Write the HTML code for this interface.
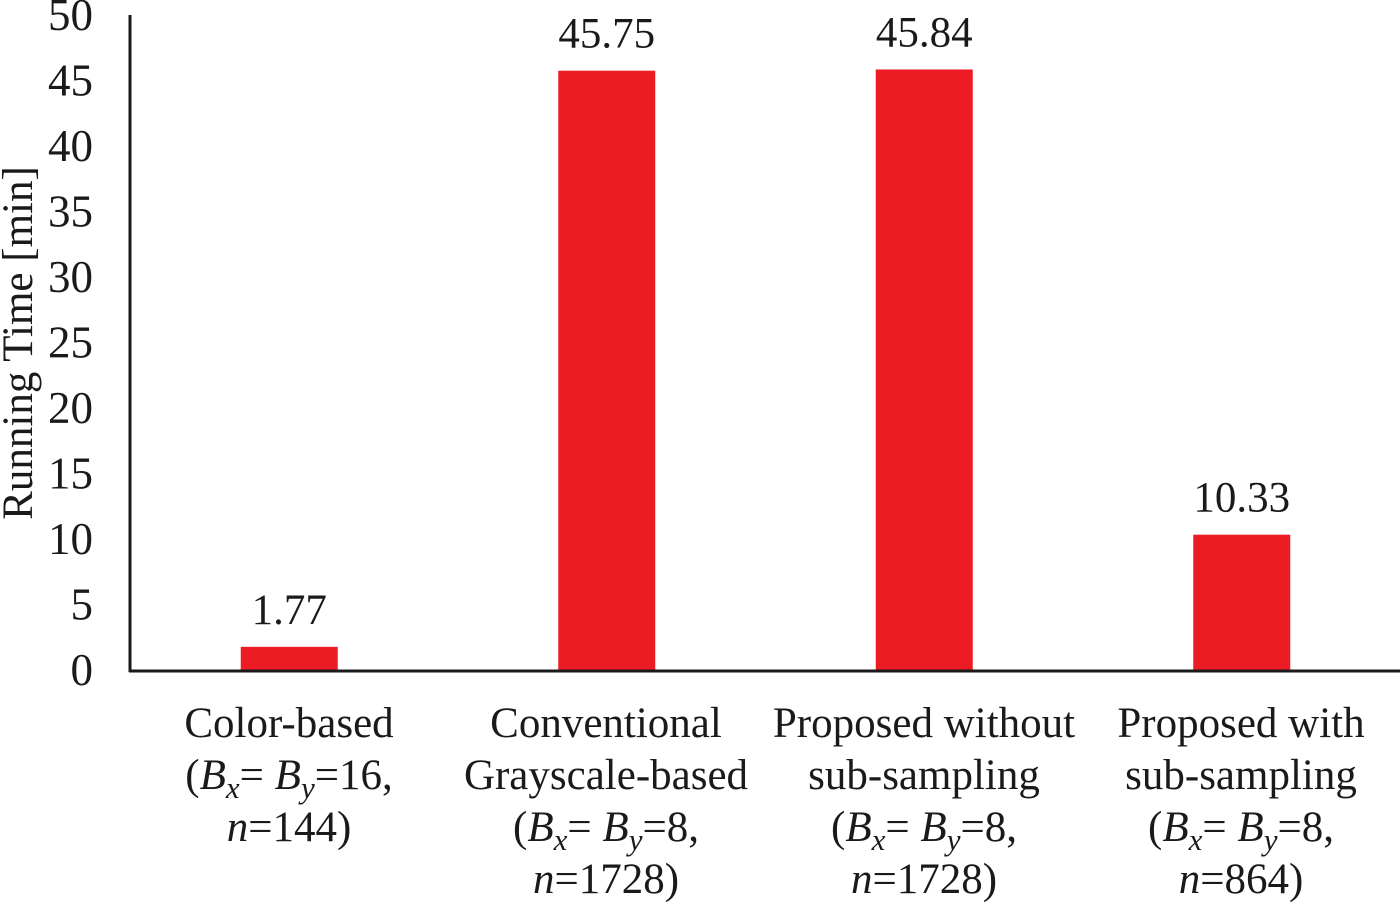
<!DOCTYPE html>
<html><head><meta charset="utf-8"><style>
html,body{margin:0;padding:0;background:#fff;}
svg{display:block;font-family:"Liberation Serif",serif;fill:#1a1a1a;}
</style></head><body>
<svg id="chart" width="1400" height="903" viewBox="0 0 1400 903">
<text transform="translate(32,343) rotate(-90)" text-anchor="middle" font-size="43">Running Time [min]</text>
<g id="yticks"></g>
<g id="bars"></g>
<line x1="130" y1="15" x2="130" y2="672" stroke="#1a1a1a" stroke-width="3"/>
<line x1="129" y1="671" x2="1400" y2="671" stroke="#1a1a1a" stroke-width="3"/>
<g id="xlabels" font-size="43" text-anchor="middle">
<text x="289" y="737"><tspan x="289">Color-based</tspan><tspan x="289" dy="52">(<tspan font-style="italic">B</tspan><tspan font-style="italic" font-size="31" dy="9">x</tspan><tspan dy="-9">= </tspan><tspan font-style="italic">B</tspan><tspan font-style="italic" font-size="31" dy="9">y</tspan><tspan dy="-9">=16,</tspan></tspan><tspan x="289" dy="52"><tspan font-style="italic">n</tspan>=144)</tspan></text>
<text x="606" y="737"><tspan x="606">Conventional</tspan><tspan x="606" dy="52">Grayscale-based</tspan><tspan x="606" dy="52">(<tspan font-style="italic">B</tspan><tspan font-style="italic" font-size="31" dy="9">x</tspan><tspan dy="-9">= </tspan><tspan font-style="italic">B</tspan><tspan font-style="italic" font-size="31" dy="9">y</tspan><tspan dy="-9">=8,</tspan></tspan><tspan x="606" dy="52"><tspan font-style="italic">n</tspan>=1728)</tspan></text>
<text x="924" y="737"><tspan x="924">Proposed without</tspan><tspan x="924" dy="52">sub-sampling</tspan><tspan x="924" dy="52">(<tspan font-style="italic">B</tspan><tspan font-style="italic" font-size="31" dy="9">x</tspan><tspan dy="-9">= </tspan><tspan font-style="italic">B</tspan><tspan font-style="italic" font-size="31" dy="9">y</tspan><tspan dy="-9">=8,</tspan></tspan><tspan x="924" dy="52"><tspan font-style="italic">n</tspan>=1728)</tspan></text>
<text x="1241" y="737"><tspan x="1241">Proposed with</tspan><tspan x="1241" dy="52">sub-sampling</tspan><tspan x="1241" dy="52">(<tspan font-style="italic">B</tspan><tspan font-style="italic" font-size="31" dy="9">x</tspan><tspan dy="-9">= </tspan><tspan font-style="italic">B</tspan><tspan font-style="italic" font-size="31" dy="9">y</tspan><tspan dy="-9">=8,</tspan></tspan><tspan x="1241" dy="52"><tspan font-style="italic">n</tspan>=864)</tspan></text>
</g>
</svg>
<script>
const categories = ["Color-based","Conventional Grayscale-based","Proposed without sub-sampling","Proposed with sub-sampling"];
const values = [1.77, 45.75, 45.84, 10.33];
const valueLabels = ["1.77","45.75","45.84","10.33"];
const yTicks = [0,5,10,15,20,25,30,35,40,45,50];

const NS = "http://www.w3.org/2000/svg";
const y0 = 670, pxPerUnit = 13.1;
function yScale(v){ return y0 - v * pxPerUnit; }
const plotLeft = 130, band = 317.5;
function xCenter(i){ return plotLeft + band * (i + 0.5) + 0.5; }
const barW = 97;

const gt = document.getElementById('yticks');
yTicks.forEach(t => {
  const el = document.createElementNS(NS, 'text');
  
  
  el.setAttribute('x', 93);
  el.setAttribute('y', yScale(t) + 15);
  el.setAttribute('text-anchor', 'end');
  el.setAttribute('font-size', '45');
  el.textContent = t;
  gt.appendChild(el);
});

const gb = document.getElementById('bars');
values.forEach((v, i) => {
  const r = document.createElementNS(NS, 'rect');
  
  
  r.setAttribute('x', xCenter(i) - barW / 2);
  r.setAttribute('y', yScale(v));
  r.setAttribute('width', barW);
  r.setAttribute('height', y0 - yScale(v));
  r.setAttribute('fill', '#ed1c24');
  gb.appendChild(r);
  const t = document.createElementNS(NS, 'text');
  
  
  t.setAttribute('x', xCenter(i));
  t.setAttribute('y', yScale(v) - 23);
  t.setAttribute('text-anchor', 'middle');
  t.setAttribute('font-size', '43');
  t.textContent = valueLabels[i];
  gb.appendChild(t);
});
</script>
</body></html>
